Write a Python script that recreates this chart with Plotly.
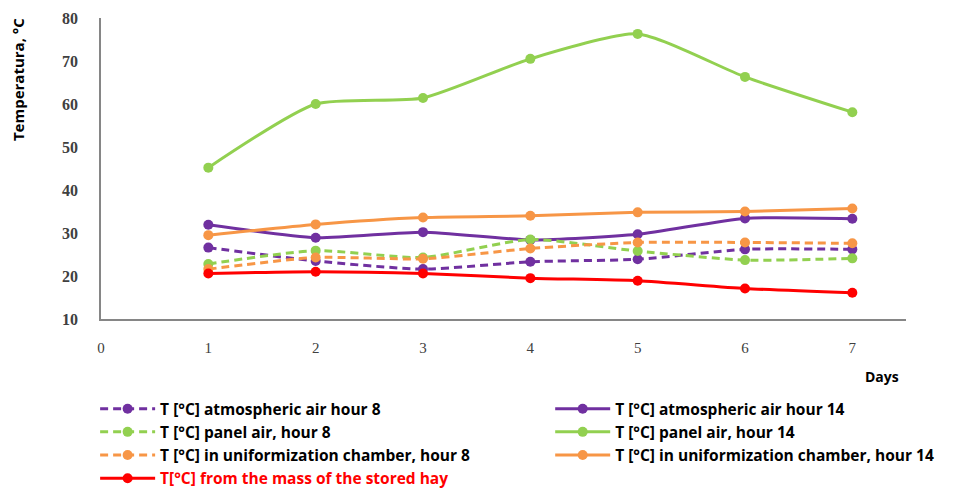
import plotly.graph_objects as go

days = [1, 2, 3, 4, 5, 6, 7]
x_ticks = [0, 1, 2, 3, 4, 5, 6, 7]
y_ticks = [10, 20, 30, 40, 50, 60, 70, 80]

atm_h8 = [26.6, 23.5, 21.6, 23.3, 23.9, 26.2, 26.2]
atm_h14 = [31.9, 28.9, 30.2, 28.4, 29.7, 33.4, 33.3]
panel_h8 = [22.8, 25.9, 24.3, 28.5, 25.8, 23.7, 24.1]
panel_h14 = [45.2, 60.0, 61.4, 70.5, 76.3, 66.3, 58.1]
unif_h8 = [21.6, 24.3, 24.0, 26.4, 27.8, 27.8, 27.6]
unif_h14 = [29.5, 32.0, 33.6, 34.0, 34.8, 35.0, 35.7]
hay_mass = [20.6, 21.0, 20.6, 19.5, 18.9, 17.1, 16.1]

names = [
    "T [°C] atmospheric air hour 8",
    "T [°C] atmospheric air hour 14",
    "T [°C] panel air, hour 8",
    "T [°C] panel air, hour 14",
    "T [°C] in uniformization chamber, hour 8",
    "T [°C] in uniformization chamber, hour 14",
    "<span style='color:#FF0000'>T[°C] from the mass of the stored hay</span>",
]
series = [atm_h8, atm_h14, panel_h8, panel_h14, unif_h8, unif_h14, hay_mass]
colors = ["#7030A0", "#7030A0", "#92D050", "#92D050", "#F79646", "#F79646", "#FF0000"]
dashes = ["8px,5px", "solid", "8px,5px", "solid", "8px,5px", "solid", "solid"]
legend_ids = ["legend", "legend2", "legend", "legend2", "legend", "legend2", "legend"]

fig = go.Figure()
for n, s, c, d, lg in zip(names, series, colors, dashes, legend_ids):
    fig.add_trace(go.Scatter(
        x=days, y=s, name=n, mode="lines+markers", legend=lg,
        line=dict(color=c, width=3, dash=d, shape="spline", smoothing=0.6),
        marker=dict(color=c, size=10),
    ))

legend_font = dict(family="Open Sans", size=15.5, color="#000000", weight="bold")
fig.update_layout(
    width=957, height=480,
    margin=dict(l=93, r=59, t=10, b=169, autoexpand=False),
    plot_bgcolor="white", paper_bgcolor="white",
    showlegend=True,
    legend=dict(
        orientation="v", x=-0.0073, y=-0.243, xanchor="left", yanchor="top",
        font=legend_font, itemwidth=55, bgcolor="rgba(0,0,0,0)",
    ),
    legend2=dict(
        orientation="v", x=0.558, y=-0.243, xanchor="left", yanchor="top",
        font=legend_font, itemwidth=55, bgcolor="rgba(0,0,0,0)",
    ),
    xaxis=dict(
        range=[0, 7.5], tickmode="array", tickvals=x_ticks,
        showline=True, linecolor="#868686", linewidth=1.5,
        showgrid=False, zeroline=False, ticks="",
        tickfont=dict(family="Liberation Serif", size=15, color="#404040"),
        ticklabelstandoff=14,
    ),
    yaxis=dict(
        range=[10, 80], tickmode="array", tickvals=y_ticks,
        showline=True, linecolor="#868686", linewidth=1.5,
        showgrid=False, zeroline=False, ticks="",
        tickfont=dict(family="Liberation Serif", size=16, color="#404040", weight="bold"),
        ticklabelstandoff=18,
    ),
    annotations=[
        dict(text="<b>Temperatura, °C</b>", xref="paper", yref="paper",
             x=-0.103, y=0.794, xanchor="center", yanchor="middle",
             textangle=-90, showarrow=False,
             font=dict(family="Open Sans", size=15, color="#000000")),
        dict(text="<b>Days</b>", xref="paper", yref="paper",
             x=0.97, y=-0.19, xanchor="center", yanchor="middle", showarrow=False,
             font=dict(family="Open Sans", size=14, color="#000000")),
    ],
)

fig.write_html("out.html")
